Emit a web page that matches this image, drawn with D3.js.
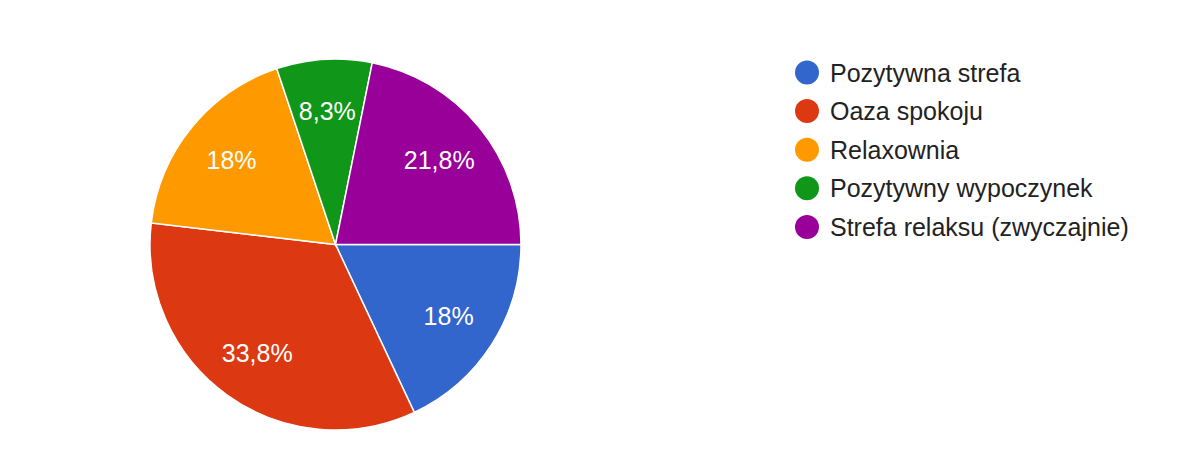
<!DOCTYPE html>
<html>
<head>
<meta charset="utf-8">
<script src="https://cdn.jsdelivr.net/npm/d3@7/dist/d3.min.js"></script>
<style>
html,body{margin:0;padding:0;background:#fff;}
svg{display:block;}
</style>
</head>
<body>
<svg id="chart" width="1200" height="457"></svg>
<script>
const categories = ["Pozytywna strefa","Oaza spokoju","Relaxownia","Pozytywny wypoczynek","Strefa relaksu (zwyczajnie)"];
const values = [18, 33.8, 18, 8.3, 21.8];
const labels = ["18%","33,8%","18%","8,3%","21,8%"];
const colors = ["#3366cc","#dc3912","#ff9900","#109618","#990099"];

const svg = d3.select("#chart");
const cx = 335.5, cy = 244.5, r = 185.5;
const data = categories.map((c,i)=>({name:c, value:values[i], label:labels[i], color:colors[i]}));

const pie = d3.pie().value(d=>d.value).sort(null)
  .startAngle(Math.PI/2).endAngle(Math.PI/2 + 2*Math.PI);
const arcs = pie(data);
const arc = d3.arc().innerRadius(0).outerRadius(r);
const labelArc = d3.arc().innerRadius(134).outerRadius(134);

const g = svg.append("g").attr("transform",`translate(${cx},${cy})`);
g.selectAll("path").data(arcs).join("path")
  .attr("d", arc).attr("fill", d=>d.data.color)
  .attr("stroke","#fff").attr("stroke-width",1.5);

g.selectAll("text").data(arcs).join("text")
  .attr("transform", d=>`translate(${labelArc.centroid(d)})`)
  .attr("text-anchor","middle").attr("dy","0.36em")
  .attr("font-family","Arial, 'Liberation Sans', sans-serif")
  .attr("font-size",25).attr("fill","#fff")
  .text(d=>d.data.label);

const lg = svg.append("g").attr("transform","translate(807,72.5)");
const rows = lg.selectAll("g").data(data).join("g")
  .attr("transform",(d,i)=>`translate(0,${i*38.6})`);
rows.append("circle").attr("r",12).attr("fill",d=>d.color);
rows.append("text").attr("x",23).attr("dy","0.36em")
  .attr("font-family","Arial, 'Liberation Sans', sans-serif")
  .attr("font-size",25).attr("fill","#222")
  .text(d=>d.name);
</script>
</body>
</html>
